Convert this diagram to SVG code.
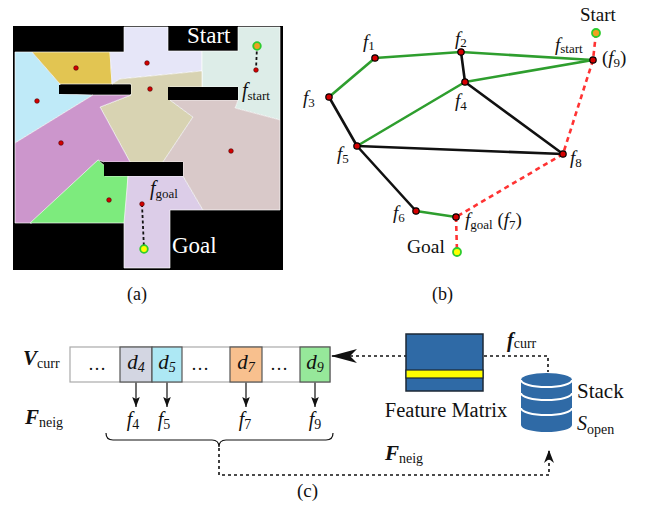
<svg xmlns="http://www.w3.org/2000/svg" width="646" height="516" viewBox="0 0 646 516">
<defs>
<style>
text{font-family:"Liberation Serif",serif;fill:#111}
.it{font-style:italic}
.bi{font-style:italic;font-weight:bold}
.reg{stroke:#fff;stroke-width:0.8;stroke-opacity:0.8}
.obs{fill:#000}
.g{stroke:#2e9e2e;stroke-width:2.6;fill:none;stroke-linecap:round}
.k{stroke:#111;stroke-width:2.6;fill:none;stroke-linecap:round}
.r{stroke:#ff3333;stroke-width:2.6;fill:none;stroke-dasharray:5,4}
.nd{fill:#d40000;stroke:#000;stroke-width:1.2}
.md{fill:#d40000;stroke:#400;stroke-width:0.6}
.dash{stroke:#111;stroke-width:1.6;fill:none;stroke-dasharray:3,3}
.cell{stroke:#555;stroke-width:1.2}
.ar{stroke:#111;stroke-width:1.2;fill:none}
.blue{fill:#2f6aa6}
</style>
<marker id="big" viewBox="-27 -8 28 16" markerWidth="28" markerHeight="16" refX="0" refY="0" markerUnits="userSpaceOnUse" orient="auto">
<path d="M0,0 L-26,-7 L-19,0 L-26,7 Z" fill="#111"/>
</marker>
<marker id="mid" viewBox="-14 -6 15 12" markerWidth="15" markerHeight="12" refX="0" refY="0" markerUnits="userSpaceOnUse" orient="auto">
<path d="M0,0 L-13,-5 L-9,0 L-13,5 Z" fill="#111"/>
</marker>
<marker id="sm" viewBox="-11 -5 12 10" markerWidth="12" markerHeight="10" refX="0" refY="0" markerUnits="userSpaceOnUse" orient="auto">
<path d="M0,0 L-10,-3.8 L-8,0 L-10,3.8 Z" fill="#111"/>
</marker>
</defs>
<rect width="646" height="516" fill="#fff"/>

<!-- (a) map -->
<g id="map">
<rect x="13" y="26" width="270" height="244" fill="#000"/>
<polygon class="reg" fill="#bfeaf8" points="15,52 32,52 60,84 60,94 93,95 15,143"/>
<polygon class="reg" fill="#e2c552" points="32,52 110,52 112,84 60,84"/>
<polygon class="reg" fill="#e6e6f8" points="124,27 168,27 168,51 202,51 202,71 120,79 112,84 110,52 124,52"/>
<polygon class="reg" fill="#ddede8" points="202,51 238,51 238,27 280,27 280,120 235,108 238,100 238,87 202,87"/>
<polygon class="reg" fill="#d8d3b2" points="112,84 120,79 202,71 202,87 170,87 170,100 193,117 163,162 130,162 100,107 131,95 131,84"/>
<polygon class="reg" fill="#cc96cc" points="15,143 93,95 131,95 100,107 130,162 104,162 98,160 32,223 15,223"/>
<polygon class="reg" fill="#7deb7d" points="98,160 105,166 105,176 128,176 128,223 30,223"/>
<polygon class="reg" fill="#dccde8" points="128,176 183,176 203,210 170,210 170,268 124,268 124,223"/>
<polygon class="reg" fill="#d9c9c9" points="170,100 238,100 235,108 280,120 280,210 203,210 183,176 183,162 163,162 193,117"/>
<rect class="obs" x="59" y="85" width="72" height="9"/>
<rect class="obs" x="168" y="87" width="70" height="13"/>
<rect class="obs" x="104" y="162" width="79" height="14"/>
<line x1="257" y1="46" x2="256" y2="70" stroke="#111" stroke-width="1.8" stroke-dasharray="3,2.5"/>
<line x1="142" y1="204" x2="144" y2="249" stroke="#111" stroke-width="1.8" stroke-dasharray="3,2.5"/>
<circle class="md" cx="76" cy="68" r="2.3"/>
<circle class="md" cx="147" cy="63" r="2.3"/>
<circle class="md" cx="150" cy="89" r="2.3"/>
<circle class="md" cx="37" cy="101" r="2.3"/>
<circle class="md" cx="61" cy="143" r="2.3"/>
<circle class="md" cx="231" cy="151" r="2.3"/>
<circle class="md" cx="109" cy="200" r="2.3"/>
<circle class="md" cx="142" cy="204" r="2.3"/>
<circle class="md" cx="256" cy="70" r="2.3"/>
<circle cx="257" cy="46" r="3.8" fill="#f0a020" stroke="#2ecc2e" stroke-width="1.8"/>
<circle cx="144" cy="249" r="3.8" fill="#ffff00" stroke="#2ecc2e" stroke-width="1.8"/>
<text x="187" y="43" font-size="23" style="fill:#fff">Start</text>
<text x="172" y="253" font-size="23" style="fill:#fff">Goal</text>
<text x="242" y="97" font-size="20"><tspan class="it">f</tspan><tspan font-size="13" dy="3">start</tspan></text>
<text x="150" y="195" font-size="20"><tspan class="it">f</tspan><tspan font-size="13" dy="3">goal</tspan></text>
</g>
<text x="127" y="300" font-size="18">(a)</text>

<!-- (b) graph -->
<g id="connectors">
<line class="g" x1="375" y1="58" x2="461" y2="52"/>
<line class="g" x1="461" y1="52" x2="593" y2="60"/>
<line class="g" x1="375" y1="58" x2="329" y2="97"/>
<line class="g" x1="465" y1="82" x2="593" y2="60"/>
<line class="g" x1="465" y1="82" x2="357" y2="146"/>
<line class="g" x1="416" y1="211" x2="456" y2="217"/>
<line class="k" x1="461" y1="52" x2="465" y2="82"/>
<line class="k" x1="329" y1="97" x2="357" y2="146"/>
<line class="k" x1="465" y1="82" x2="563" y2="154"/>
<line class="k" x1="357" y1="146" x2="563" y2="154"/>
<line class="k" x1="357" y1="146" x2="416" y2="211"/>
<line class="r" x1="596" y1="33" x2="593" y2="60"/>
<line class="r" x1="593" y1="60" x2="563" y2="154"/>
<line class="r" x1="563" y1="154" x2="456" y2="217"/>
<line class="r" x1="456" y1="217" x2="457" y2="252"/>
<!-- panel c connectors -->
<line class="dash" x1="407" y1="356" x2="331" y2="356" marker-end="url(#big)"/>
<polyline class="dash" points="484,356 548,356 548,372"/>
<polyline class="dash" points="219,448 219,475 549,475 549,450" marker-end="url(#mid)"/>
<line class="ar" x1="136" y1="382" x2="136" y2="407" marker-end="url(#sm)"/>
<line class="ar" x1="167" y1="382" x2="167" y2="407" marker-end="url(#sm)"/>
<line class="ar" x1="246" y1="382" x2="246" y2="407" marker-end="url(#sm)"/>
<line class="ar" x1="315" y1="382" x2="315" y2="407" marker-end="url(#sm)"/>
<path class="ar" d="M106,433 Q106,440 113,440 L212,440 Q219,440 219,447 Q219,440 226,440 L326,440 Q333,440 333,433"/>
</g>
<g id="f1"><circle class="nd" cx="375" cy="58" r="3.2"/><text x="363" y="48" font-size="19"><tspan class="it">f</tspan><tspan font-size="13" dy="2">1</tspan></text></g>
<g id="f2"><circle class="nd" cx="461" cy="52" r="3.2"/><text x="455" y="45" font-size="19"><tspan class="it">f</tspan><tspan font-size="13" dy="2">2</tspan></text></g>
<g id="f9"><circle class="nd" cx="593" cy="60" r="3.2"/><text x="555" y="51" font-size="19"><tspan class="it">f</tspan><tspan font-size="13" dy="2">start</tspan></text><text x="602" y="64" font-size="19">(<tspan class="it">f</tspan><tspan font-size="13" dy="3">9</tspan><tspan dy="-3">)</tspan></text></g>
<g id="f3"><circle class="nd" cx="329" cy="97" r="3.2"/><text x="303" y="104" font-size="19"><tspan class="it">f</tspan><tspan font-size="13" dy="3">3</tspan></text></g>
<g id="f4"><circle class="nd" cx="465" cy="82" r="3.2"/><text x="455" y="107" font-size="19"><tspan class="it">f</tspan><tspan font-size="13" dy="3">4</tspan></text></g>
<g id="f5"><circle class="nd" cx="357" cy="146" r="3.2"/><text x="337" y="160" font-size="19"><tspan class="it">f</tspan><tspan font-size="13" dy="3">5</tspan></text></g>
<g id="f8"><circle class="nd" cx="563" cy="154" r="3.2"/><text x="570" y="164" font-size="19"><tspan class="it">f</tspan><tspan font-size="13" dy="3">8</tspan></text></g>
<g id="f6"><circle class="nd" cx="416" cy="211" r="3.2"/><text x="393" y="219" font-size="19"><tspan class="it">f</tspan><tspan font-size="13" dy="3">6</tspan></text></g>
<g id="f7"><circle class="nd" cx="456" cy="217" r="3.2"/><text x="465" y="226" font-size="19"><tspan class="it">f</tspan><tspan font-size="13" dy="3">goal</tspan><tspan dy="-3"> (</tspan><tspan class="it">f</tspan><tspan font-size="13" dy="3">7</tspan><tspan dy="-3">)</tspan></text></g>
<g id="start"><circle cx="596" cy="33" r="4" fill="#f0a020" stroke="#2ecc2e" stroke-width="1.8"/><text x="580" y="21" font-size="19">Start</text></g>
<g id="goal"><circle cx="457" cy="252" r="4" fill="#ffff00" stroke="#2ecc2e" stroke-width="1.8"/><text x="407" y="253" font-size="19.5">Goal</text></g>
<text x="432" y="300" font-size="18">(b)</text>

<!-- (c) -->
<g id="vcurr">
<rect x="70" y="347" width="260" height="35" fill="#fff" stroke="#aaa" stroke-width="1.2"/>
<rect class="cell" x="120" y="347" width="32" height="35" fill="#d3d6e2"/>
<rect class="cell" x="152" y="347" width="30" height="35" fill="#ade8f4"/>
<rect class="cell" x="230" y="347" width="32" height="35" fill="#f8c08e"/>
<rect class="cell" x="300" y="347" width="30" height="35" fill="#96e89a"/>
<text x="97" y="370" font-size="18" text-anchor="middle">…</text>
<text x="200" y="370" font-size="18" text-anchor="middle">…</text>
<text x="279" y="370" font-size="18" text-anchor="middle">…</text>
<text x="136" y="369" font-size="21" text-anchor="middle"><tspan class="it">d</tspan><tspan class="it" font-size="14" dy="3">4</tspan></text>
<text x="167" y="369" font-size="21" text-anchor="middle"><tspan class="it">d</tspan><tspan class="it" font-size="14" dy="3">5</tspan></text>
<text x="246" y="369" font-size="21" text-anchor="middle"><tspan class="it">d</tspan><tspan class="it" font-size="14" dy="3">7</tspan></text>
<text x="315" y="369" font-size="21" text-anchor="middle"><tspan class="it">d</tspan><tspan class="it" font-size="14" dy="3">9</tspan></text>
<text x="23" y="365" font-size="21"><tspan class="bi">V</tspan><tspan font-size="14" dy="3">curr</tspan></text>
</g>
<g id="fneig">
<text x="25" y="424" font-size="21"><tspan class="bi">F</tspan><tspan font-size="14" dy="3">neig</tspan></text>
<text x="133" y="426" font-size="20" text-anchor="middle"><tspan class="it">f</tspan><tspan font-size="14" dy="3">4</tspan></text>
<text x="164" y="426" font-size="20" text-anchor="middle"><tspan class="it">f</tspan><tspan font-size="14" dy="3">5</tspan></text>
<text x="245" y="426" font-size="20" text-anchor="middle"><tspan class="it">f</tspan><tspan font-size="14" dy="3">7</tspan></text>
<text x="315" y="426" font-size="20" text-anchor="middle"><tspan class="it">f</tspan><tspan font-size="14" dy="3">9</tspan></text>
</g>
<g id="feature-matrix">
<rect class="blue" x="406" y="334" width="77" height="57" stroke="#1c2836" stroke-width="1.5"/>
<rect x="406" y="370" width="77" height="8" fill="#ffff00" stroke="#1c2836" stroke-width="1.2"/>
<text x="446" y="417" font-size="20.5" text-anchor="middle">Feature Matrix</text>
<text x="507" y="347" font-size="20"><tspan class="bi">f</tspan><tspan font-size="14" dy="1">curr</tspan></text>
</g>
<g id="stack">
<path class="blue" d="M521,380 L521,425 A25.5,7 0 0,0 572,425 L572,380 Z"/>
<ellipse class="blue" cx="546.5" cy="380" rx="25.5" ry="7"/>
<path d="M521,380 A25.5,7 0 0,0 572,380 M521,393 A25.5,7 0 0,0 572,393 M521,408 A25.5,7 0 0,0 572,408" fill="none" stroke="#fff" stroke-width="2"/>
<text x="577" y="398" font-size="21">Stack</text>
<text x="577" y="430" font-size="20"><tspan class="it">S</tspan><tspan font-size="14" dy="4">open</tspan></text>
</g>
<text x="385" y="460" font-size="21"><tspan class="bi">F</tspan><tspan font-size="14" dy="3">neig</tspan></text>
<text x="297" y="497" font-size="19">(c)</text>
</svg>
